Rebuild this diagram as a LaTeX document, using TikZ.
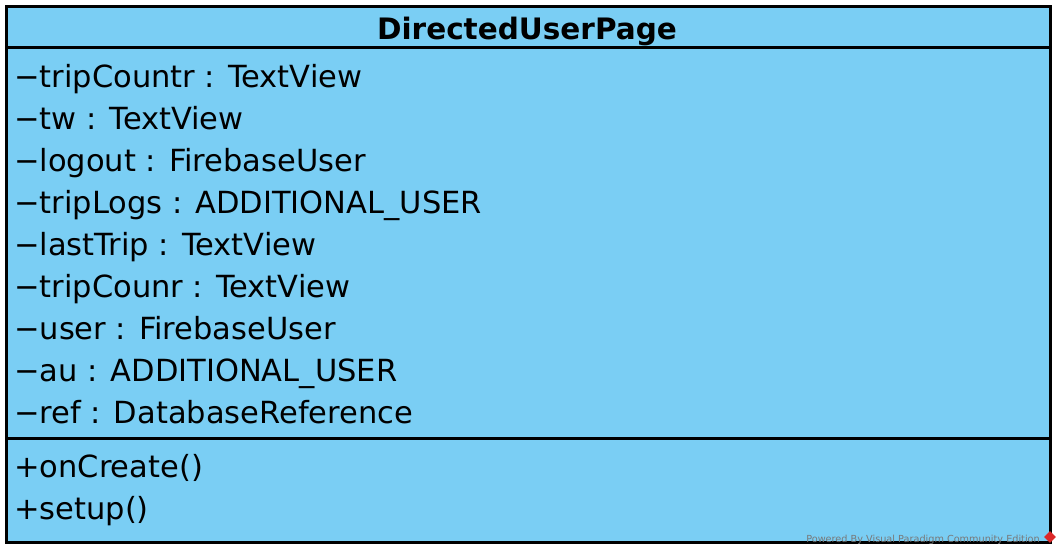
\documentclass[tikz,border=0pt]{standalone}
\usepackage{fontspec}
\setmainfont{DejaVu Sans}
\usetikzlibrary{shapes.geometric}
\definecolor{classfill}{RGB}{122,206,244}
\definecolor{wmgray}{RGB}{120,120,120}
\definecolor{wmred}{RGB}{220,40,40}
\tikzset{
  member/.style={anchor=base west, inner sep=0pt, font=\fontsize{30.5}{36}\selectfont},
  classline/.style={line width=3pt},
}
\begin{document}
\begin{tikzpicture}[x=1pt,y=-1pt]
\useasboundingbox (0,0) rectangle (1062,555);
\fill[white] (0,0) rectangle (1062,555);
\draw[classline, fill=classfill] (6.5,6.5) rectangle (1050.5,542.5);
\draw[classline] (6.5,47) -- (1050.5,47);
\draw[classline] (6.5,438) -- (1050.5,438);
\node[anchor=base, inner sep=0pt, font=\bfseries\fontsize{29.5}{34}\selectfont] (title) at (527,39) {DirectedUserPage};
\node[member] (a1) at (14,87) {−tripCountr : TextView};
\node[member] (a2) at (14,129) {−tw : TextView};
\node[member] (a3) at (14,171) {−logout : FirebaseUser};
\node[member] (a4) at (14,213) {−tripLogs : ADDITIONAL\_USER};
\node[member] (a5) at (14,255) {−lastTrip : TextView};
\node[member] (a6) at (14,297) {−tripCounr : TextView};
\node[member] (a7) at (14,339) {−user : FirebaseUser};
\node[member] (a8) at (14,381) {−au : ADDITIONAL\_USER};
\node[member] (a9) at (14,423) {−ref : DatabaseReference};
\node[member] (m1) at (14,477) {+onCreate()};
\node[member] (m2) at (14,519) {+setup()};
\node[anchor=base east, inner sep=0pt, text=wmgray, font=\fontsize{9.7}{11}\selectfont] (wm) at (1040,542) {Powered By Visual Paradigm Community Edition};
\node[diamond, fill=wmred, inner sep=0pt, minimum size=12pt] (logo) at (1050,537) {};
\end{tikzpicture}
\end{document}
